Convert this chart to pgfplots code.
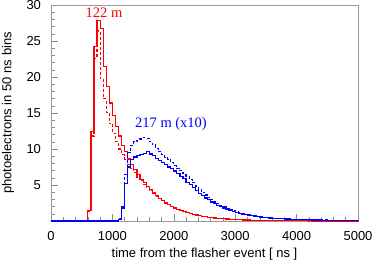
\documentclass[border=0pt]{standalone}
\usepackage{fontspec}
\setmainfont{Liberation Sans}
\newfontfamily\seriffont{Liberation Serif}
\usepackage{pgfplots}
\pgfplotsset{compat=1.18}
\usepackage{pgfplotstable}

\pgfplotstableread{
t v
0 0
600 1.5
650 12.4
700 24.2
750 27.9
800 26.7
850 21.5
900 18.7
950 16.4
1000 14.6
1050 13.1
1100 11.8
1150 10.5
1200 9.6
1250 8.6
1300 7.9
1350 7.1
1400 6.5
1450 5.8
1500 5.3
1550 4.8
1600 4.35
1650 3.9
1700 3.5
1750 3.15
1800 2.8
1850 2.55
1900 2.25
1950 2.05
2000 1.8
2050 1.62
2100 1.45
2150 1.3
2200 1.16
2250 1.05
2300 0.93
2350 0.84
2400 0.74
2450 0.67
2500 0.6
2550 0.53
2600 0.48
2650 0.42
2700 0.39
2750 0.34
2800 0.31
2850 0.27
2900 0.25
2950 0.22
3000 0.2
3050 0.17
3100 0.16
3150 0.14
3200 0.13
3250 0.11
3300 0.1
3350 0.09
3400 0.08
3450 0.07
3500 0.065
3550 0.06
3600 0.05
3650 0.045
3700 0.04
3750 0.035
3800 0.03
3850 0.03
3900 0.025
3950 0.02
4000 0.02
4100 0.015
4300 0.01
4600 0.005
5000 0
}\redsolid

\pgfplotstableread{
t v
0 0
600 1.3
650 11.8
700 22.6
750 26.4
800 19.8
850 17.0
900 15.1
950 13.5
1000 12.2
1050 11.0
1100 10.0
1150 9.2
1200 8.5
1250 7.9
1300 7.3
1350 6.7
1400 6.1
1450 5.6
1500 5.1
1550 4.6
1600 4.2
1650 3.8
1700 3.45
1750 3.1
1800 2.8
1850 2.5
1900 2.25
1950 2.0
2000 1.8
2050 1.6
2100 1.45
2150 1.3
2200 1.15
2250 1.05
2300 0.94
2350 0.83
2400 0.75
2450 0.67
2500 0.6
2550 0.54
2600 0.48
2650 0.43
2700 0.38
2750 0.34
2800 0.3
2850 0.28
2900 0.24
2950 0.22
3000 0.19
3050 0.18
3100 0.15
3150 0.14
3200 0.12
3250 0.11
3300 0.1
3350 0.09
3400 0.08
3500 0.065
3600 0.05
3700 0.04
3800 0.03
3900 0.025
4000 0.02
4200 0.01
4600 0.005
5000 0
}\reddash

\pgfplotstableread{
t v
0 0
1100 0.25
1150 1.8
1200 5.2
1250 7.5
1300 8.5
1350 8.9
1400 9.1
1450 9.2
1500 9.4
1550 9.6
1600 9.3
1650 9.05
1700 8.7
1750 8.45
1800 8.1
1850 7.85
1900 7.5
1950 7.25
2000 6.95
2050 6.6
2100 6.2
2150 5.85
2200 5.4
2250 5.05
2300 4.6
2350 4.25
2400 3.8
2450 3.55
2500 3.2
2550 2.95
2600 2.65
2650 2.45
2700 2.2
2750 2.0
2800 1.8
2850 1.62
2900 1.45
2950 1.32
3000 1.2
3050 1.08
3100 0.98
3150 0.9
3200 0.82
3250 0.74
3300 0.68
3350 0.61
3400 0.56
3450 0.51
3500 0.47
3550 0.43
3600 0.4
3650 0.37
3700 0.34
3750 0.32
3800 0.29
3850 0.27
3900 0.25
3950 0.23
4000 0.21
4050 0.2
4100 0.19
4150 0.18
4200 0.16
4250 0.15
4300 0.14
4350 0.13
4400 0.12
4450 0.11
4500 0.1
4550 0.095
4600 0.09
4650 0.085
4700 0.08
4750 0.07
4800 0.065
4850 0.06
4900 0.055
4950 0.05
5000 0.05
}\bluesolid

\pgfplotstableread{
t v
0 0
1100 0.3
1150 2.0
1200 6.5
1250 9.5
1300 10.5
1350 11.0
1400 11.2
1450 11.4
1500 11.6
1550 11.5
1600 11.0
1650 10.6
1700 10.1
1750 9.6
1800 9.2
1850 8.8
1900 8.5
1950 8.1
2000 7.7
2050 7.3
2100 7.0
2150 6.6
2200 6.2
2250 5.8
2300 5.3
2350 4.85
2400 4.4
2450 4.0
2500 3.6
2550 3.25
2600 2.95
2650 2.65
2700 2.4
2750 2.15
2800 1.95
2850 1.75
2900 1.58
2950 1.42
3000 1.28
3050 1.15
3100 1.04
3150 0.94
3200 0.85
3250 0.77
3300 0.7
3350 0.63
3400 0.57
3450 0.52
3500 0.48
3550 0.44
3600 0.4
3650 0.37
3700 0.34
3750 0.32
3800 0.3
3850 0.28
3900 0.26
3950 0.24
4000 0.22
4100 0.2
4200 0.17
4300 0.15
4400 0.13
4500 0.11
4600 0.1
4700 0.085
4800 0.07
4900 0.06
5000 0.06
}\bluedash

\begin{document}
\begin{tikzpicture}
\begin{axis}[name=ax, scale only axis, width=307pt, height=216pt,
  xmin=0, xmax=5000, ymin=0, ymax=30,
  xtick={0,1000,...,5000}, ytick={5,10,...,30},
  minor xtick={200,400,...,4800}, minor ytick={1,2,...,29},
  tick align=inside, xtick pos=bottom, ytick pos=left,
  major tick length=7pt, minor tick length=3.5pt,
  tick style={black!45, line width=0.5pt},
  axis line style={black!40, line width=0.8pt},
  /pgf/number format/assume math mode=true,
  /pgf/number format/1000 sep={},
  ticklabel style={font=\fontsize{13}{15}\selectfont},
  xticklabel style={yshift=-6.5pt},
  yticklabel style={xshift=-6.5pt},
  xlabel={time from the flasher event [ ns ]},
  ylabel={photoelectrons in 50 ns bins},
  label style={font=\fontsize{13}{15}\selectfont},
  xlabel style={at={(axis description cs:0.5,-0.155)}, anchor=center},
  ylabel style={at={(axis description cs:-0.14,0.5)}, anchor=center},
  clip=false]
\addplot[const plot mark left, red, line width=1.2pt, dash pattern=on 3pt off 2pt] table[x=t,y=v]{\reddash};
\addplot[const plot mark left, red, line width=1.2pt] table[x=t,y=v]{\redsolid};
\addplot[const plot mark left, blue, line width=1.2pt, dash pattern=on 3pt off 2pt] table[x=t,y=v]{\bluedash};
\addplot[const plot mark left, blue, line width=1.2pt] table[x=t,y=v]{\bluesolid};
\node[red, font=\seriffont\fontsize{14.5}{16}\selectfont] at (axis cs:863,28.96) {122 m};
\node[blue, font=\seriffont\fontsize{14.5}{16}\selectfont] at (axis cs:1954,13.5) {217 m (x10)};
\end{axis}
\pgfresetboundingbox
\path[use as bounding box] ([shift={(-51pt,-43pt)}]ax.south west) rectangle ([shift={(16pt,5pt)}]ax.north east);
\end{tikzpicture}
\end{document}
